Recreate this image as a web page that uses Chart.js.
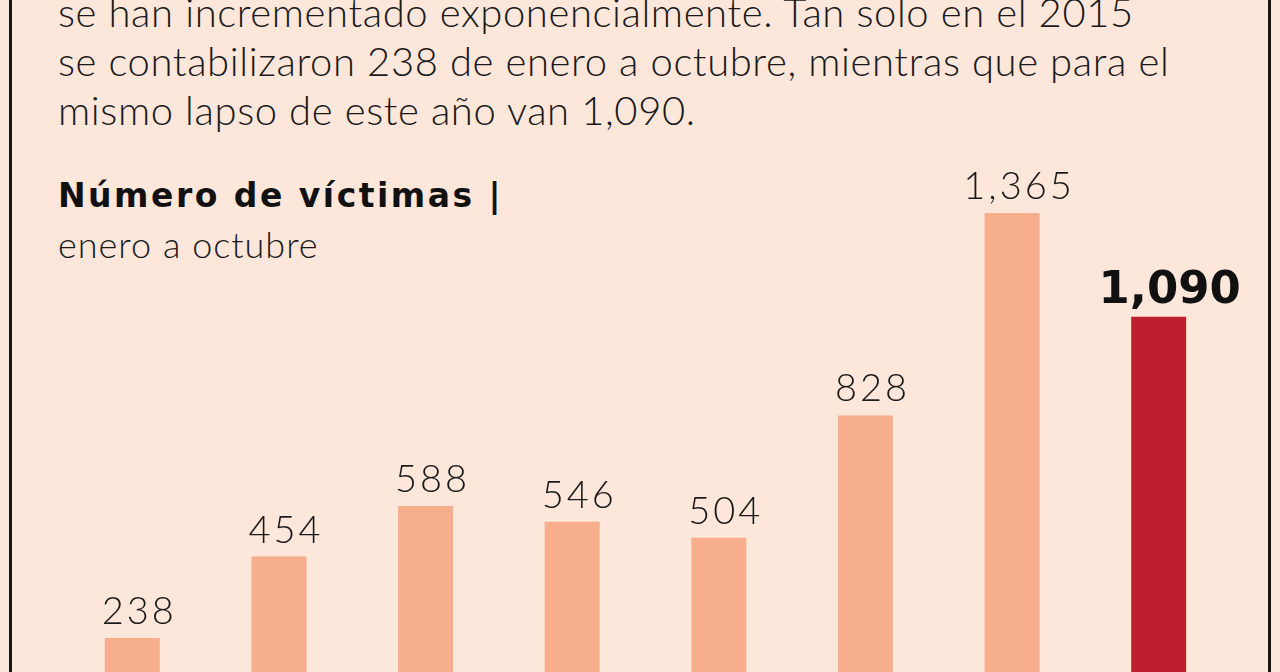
<!DOCTYPE html>
<html>
<head>
<meta charset="utf-8">
<script src="https://cdn.jsdelivr.net/npm/chart.js@4"></script>
<style>
  html, body { margin: 0; padding: 0; }
  body { width: 1280px; height: 672px; overflow: hidden; background: #fde6da; position: relative; font-family: Lato, "Open Sans", sans-serif; color: #1a1a1a; }
  .frame { position: absolute; top: 0; bottom: 0; left: 9px; right: 9px; border-left: 3px solid #151515; border-right: 3px solid #151515; }
  .intro { position: absolute; left: 58px; top: -12px; font-size: 40px; font-weight: 300; line-height: 49px; letter-spacing: 0.6px; white-space: nowrap; }
  .title { position: absolute; left: 58px; top: 176px; font-family: "DejaVu Sans", sans-serif; font-size: 33px; font-weight: 700; line-height: 40px; letter-spacing: 2.5px; white-space: nowrap; color: #111; }
  .subtitle { position: absolute; left: 58px; top: 224px; font-size: 36px; font-weight: 300; line-height: 40px; letter-spacing: 1px; white-space: nowrap; }
  .chart-box { position: absolute; left: 0; top: 0; width: 1280px; height: 672px; }
</style>
</head>
<body>
<div class="frame"></div>
<div class="intro">
  <div>se han incrementado exponencialmente. Tan solo en el 2015</div>
  <div>se contabilizaron 238 de enero a octubre, mientras que para el</div>
  <div>mismo lapso de este año van 1,090.</div>
</div>
<div class="title">Número de víctimas |</div>
<div class="subtitle">enero a octubre</div>
<div class="chart-box"><canvas id="victims-chart"></canvas></div>

<script>
// years 2015 .. 2022, january to october
const years = ["2015", "2016", "2017", "2018", "2019", "2020", "2021", "2022"];
const victims = [238, 454, 588, 546, 504, 828, 1365, 1090];
const valueLabels = ["238", "454", "588", "546", "504", "828", "1,365", "1,090"];

const barColor = "#f6ae8c";
const highlightColor = "#be1e2d";

// draws the number above each bar
const barLabels = {
    id: "barLabels",
    afterDatasetsDraw(chart) {
        const ctx = chart.ctx;
        const meta = chart.getDatasetMeta(0);
        ctx.save();
        ctx.textAlign = "center";
        ctx.textBaseline = "alphabetic";
        meta.data.forEach((bar, i) => {
            const last = i === meta.data.length - 1;
            if (last) {
                ctx.fillStyle = "#111111";
                ctx.font = "bold 45px 'DejaVu Sans'";
                ctx.letterSpacing = "0px";
                ctx.fillText(valueLabels[i], bar.x + 11, bar.y - 14);
            } else {
                ctx.fillStyle = "#1a1a1a";
                ctx.font = "300 38px Lato";
                ctx.letterSpacing = "3px";
                ctx.fillText(valueLabels[i], bar.x + 7, bar.y - 14);
            }
        });
        ctx.restore();
    }
};

const victimsChart = new Chart("victims-chart", {
    type: "bar",
    data: {
        labels: years,
        datasets: [{
            data: victims,
            backgroundColor: victims.map((v, i) => i === victims.length - 1 ? highlightColor : barColor),
            borderWidth: 0,
            categoryPercentage: 1,
            barPercentage: 0.375
        }]
    },
    options: {
        responsive: true,
        maintainAspectRatio: false,
        animation: false,
        layout: { padding: { top: 162, left: 59, right: 48, bottom: 0 } },
        plugins: {
            legend: { display: false },
            tooltip: { enabled: false }
        },
        scales: {
            x: { display: false },
            y: { display: false, min: 148, max: 1500 }
        }
    },
    plugins: [barLabels]
});
</script>
</body>
</html>
